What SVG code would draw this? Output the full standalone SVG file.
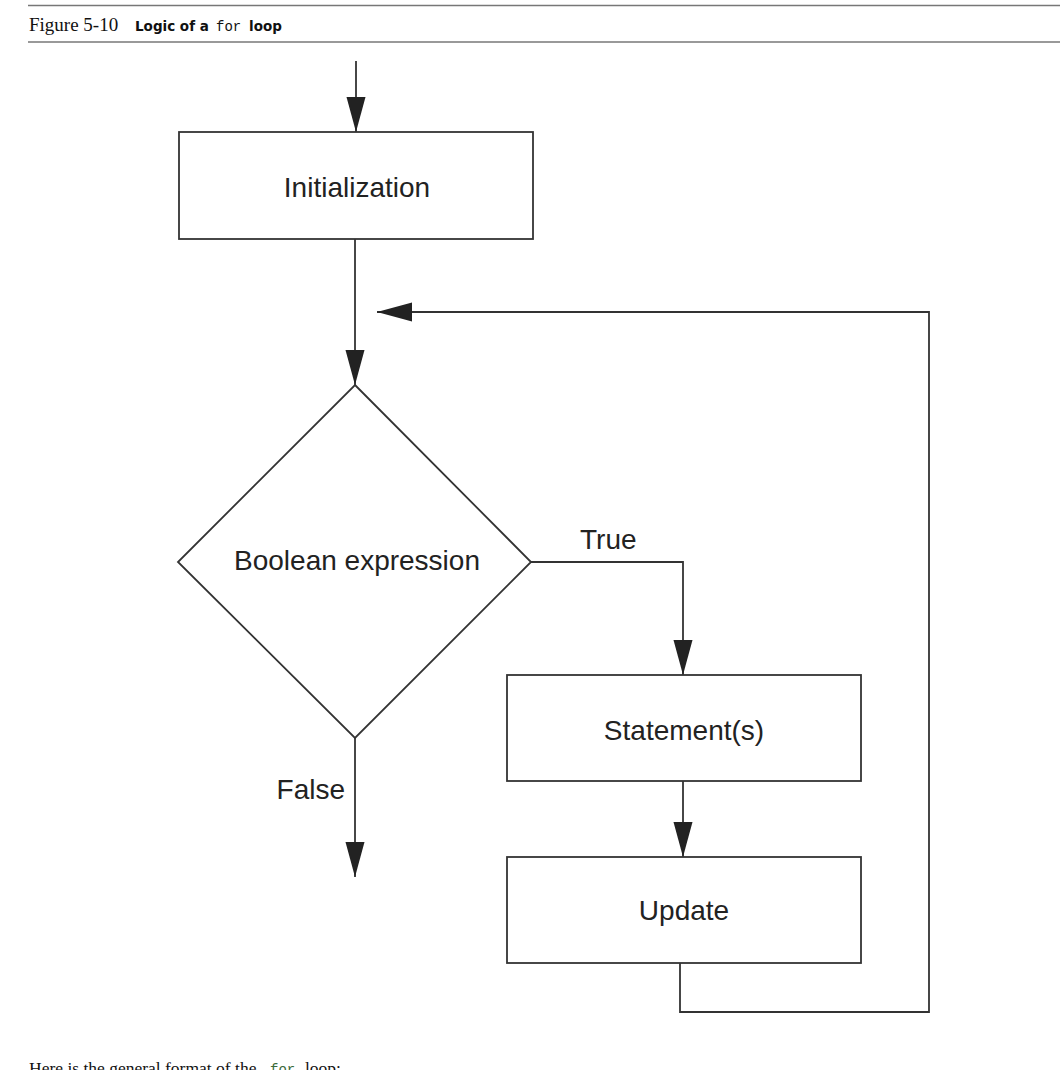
<svg xmlns="http://www.w3.org/2000/svg" width="1060" height="1070" viewBox="0 0 1060 1070">
<style>
.shape{fill:#fff;stroke:#333;stroke-width:1.8}
.conn{fill:none;stroke:#333;stroke-width:1.8}
.lbl{font-family:"Liberation Sans",Arial,sans-serif;font-size:28px;fill:#222}
.rule{stroke:#777;stroke-width:1.6}
.serif{font-family:"Liberation Serif","Times New Roman",serif;fill:#111}
.bold{font-family:"DejaVu Sans",Verdana,sans-serif;font-weight:bold;font-size:13.5px;fill:#111}
.mono{font-family:"Liberation Mono","Courier New",monospace;font-size:14px;fill:#111}
</style>
<defs>
<marker id="ah" markerUnits="userSpaceOnUse" markerWidth="36" markerHeight="20" refX="35" refY="9.5" orient="auto" viewBox="0 0 36 20">
<path d="M0,0 L35,9.5 L0,19 Z" fill="#222"/>
</marker>
</defs>
<rect width="1060" height="1070" fill="#fff"/>
<g id="header">
<line class="rule" x1="28" y1="5.5" x2="1060" y2="5.5"/>
<line class="rule" x1="28" y1="42" x2="1060" y2="42"/>
<text class="serif" x="29" y="31" font-size="19">Figure 5-10</text>
<text class="bold" x="135" y="31">Logic of a</text>
<text class="mono" x="216" y="31">for</text>
<text class="bold" x="249" y="31">loop</text>
</g>
<g id="connectors">
<line class="conn" x1="356" y1="61" x2="356" y2="132" marker-end="url(#ah)"/>
<line class="conn" x1="355" y1="239" x2="355" y2="385" marker-end="url(#ah)"/>
<polyline class="conn" points="531,562 683,562 683,675" marker-end="url(#ah)"/>
<line class="conn" x1="355" y1="738" x2="355" y2="877" marker-end="url(#ah)"/>
<line class="conn" x1="683" y1="781" x2="683" y2="857" marker-end="url(#ah)"/>
<polyline class="conn" points="680,963 680,1012 929,1012 929,312 377,312" marker-end="url(#ah)"/>
<text class="lbl" x="580" y="549">True</text>
<text class="lbl" x="345" y="799" text-anchor="end">False</text>
</g>
<g id="init">
<rect class="shape" x="179" y="132" width="354" height="107"/>
<text class="lbl" x="357" y="197" text-anchor="middle">Initialization</text>
</g>
<g id="decision">
<polygon class="shape" points="355,385 531,562 355,738 178,562"/>
<text class="lbl" x="357" y="570" text-anchor="middle">Boolean expression</text>
</g>
<g id="statements">
<rect class="shape" x="507" y="675" width="354" height="106"/>
<text class="lbl" x="684" y="740" text-anchor="middle">Statement(s)</text>
</g>
<g id="update">
<rect class="shape" x="507" y="857" width="354" height="106"/>
<text class="lbl" x="684" y="920" text-anchor="middle">Update</text>
</g>
<g id="footer">
<text class="serif" x="29" y="1074" font-size="17.5">Here is the general format of the</text>
<text x="270" y="1074" font-family="Liberation Mono,'Courier New',monospace" font-size="14" fill="#3a6a3a">for</text>
<text class="serif" x="305" y="1074" font-size="17.5">loop:</text>
</g>
</svg>
